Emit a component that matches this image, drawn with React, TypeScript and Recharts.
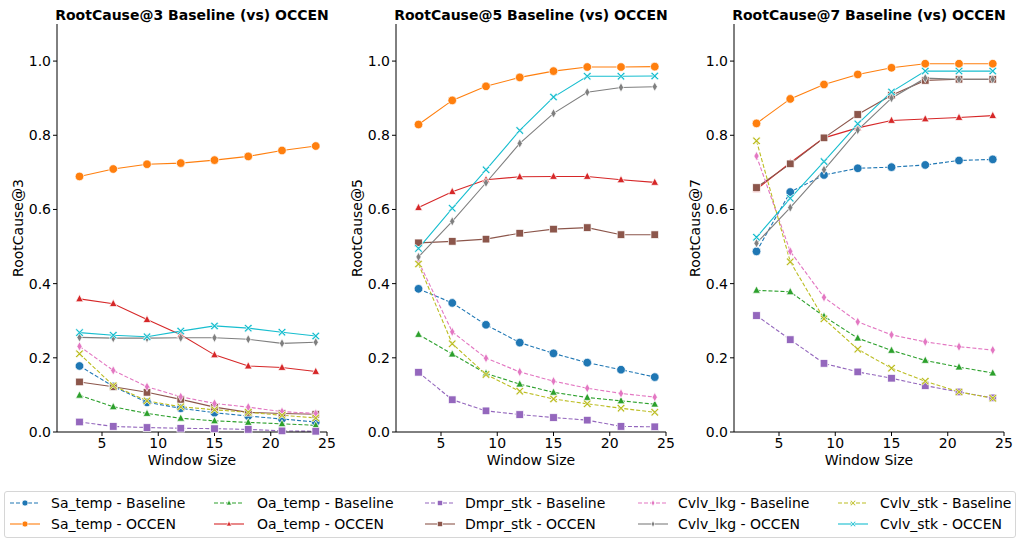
import React from 'react';
import { LineChart, Line, XAxis, YAxis } from 'recharts';

const windowSizes = [3, 6, 9, 12, 15, 18, 21, 24];

// RootCause@3
const rc3SaBase = [0.178, 0.123, 0.080, 0.064, 0.052, 0.043, 0.035, 0.027];
const rc3SaOccen = [0.689, 0.709, 0.722, 0.725, 0.733, 0.743, 0.759, 0.771];
const rc3OaBase = [0.099, 0.068, 0.050, 0.037, 0.030, 0.026, 0.022, 0.018];
const rc3OaOccen = [0.359, 0.346, 0.303, 0.262, 0.208, 0.178, 0.174, 0.163];
const rc3DmBase = [0.027, 0.015, 0.012, 0.010, 0.009, 0.007, 0.003, 0.002];
const rc3DmOccen = [0.135, 0.122, 0.107, 0.088, 0.067, 0.053, 0.050, 0.048];
const rc3LkBase = [0.231, 0.166, 0.122, 0.095, 0.077, 0.067, 0.055, 0.050];
const rc3LkOccen = [0.255, 0.253, 0.253, 0.254, 0.254, 0.250, 0.239, 0.242];
const rc3StBase = [0.211, 0.125, 0.084, 0.068, 0.060, 0.053, 0.045, 0.038];
const rc3StOccen = [0.268, 0.261, 0.257, 0.272, 0.286, 0.280, 0.269, 0.259];

// RootCause@5
const rc5SaBase = [0.386, 0.348, 0.289, 0.241, 0.212, 0.187, 0.168, 0.148];
const rc5SaOccen = [0.829, 0.894, 0.932, 0.956, 0.973, 0.984, 0.984, 0.985];
const rc5OaBase = [0.263, 0.210, 0.158, 0.129, 0.107, 0.093, 0.084, 0.075];
const rc5OaOccen = [0.605, 0.648, 0.680, 0.688, 0.689, 0.689, 0.680, 0.673];
const rc5DmBase = [0.161, 0.087, 0.057, 0.047, 0.039, 0.032, 0.015, 0.014];
const rc5DmOccen = [0.510, 0.514, 0.520, 0.536, 0.547, 0.551, 0.532, 0.532];
const rc5LkBase = [0.460, 0.270, 0.199, 0.162, 0.137, 0.118, 0.104, 0.094];
const rc5LkOccen = [0.472, 0.568, 0.672, 0.778, 0.859, 0.916, 0.929, 0.931];
const rc5StBase = [0.453, 0.238, 0.155, 0.110, 0.089, 0.076, 0.064, 0.053];
const rc5StOccen = [0.495, 0.603, 0.707, 0.813, 0.903, 0.959, 0.959, 0.960];

// RootCause@7
const rc7SaBase = [0.487, 0.647, 0.693, 0.711, 0.714, 0.720, 0.732, 0.735];
const rc7SaOccen = [0.832, 0.898, 0.937, 0.964, 0.982, 0.993, 0.993, 0.993];
const rc7OaBase = [0.382, 0.378, 0.312, 0.253, 0.220, 0.193, 0.175, 0.159];
const rc7OaOccen = [0.654, 0.726, 0.793, 0.820, 0.840, 0.844, 0.848, 0.853];
const rc7DmBase = [0.314, 0.249, 0.185, 0.162, 0.145, 0.125, 0.108, 0.092];
const rc7DmOccen = [0.659, 0.723, 0.793, 0.856, 0.908, 0.948, 0.951, 0.951];
const rc7LkBase = [0.744, 0.487, 0.363, 0.297, 0.262, 0.243, 0.230, 0.221];
const rc7LkOccen = [0.509, 0.605, 0.707, 0.814, 0.900, 0.954, 0.951, 0.951];
const rc7StBase = [0.785, 0.459, 0.305, 0.223, 0.172, 0.137, 0.108, 0.091];
const rc7StOccen = [0.525, 0.630, 0.729, 0.831, 0.917, 0.973, 0.973, 0.973];

const yTicks = [0, 0.2, 0.4, 0.6, 0.8, 1.0];
const xTicks = [5, 10, 15, 20, 25];

type Shape = 'circle' | 'triangle' | 'square' | 'diamond' | 'x';

const SERIES: { key: string; label: string; color: string; shape: Shape; dashed: boolean }[] = [
    { key: 'saBase', label: 'Sa_temp - Baseline', color: '#1f77b4', shape: 'circle', dashed: true },
    { key: 'saOccen', label: 'Sa_temp - OCCEN', color: '#ff7f0e', shape: 'circle', dashed: false },
    { key: 'oaBase', label: 'Oa_temp - Baseline', color: '#2ca02c', shape: 'triangle', dashed: true },
    { key: 'oaOccen', label: 'Oa_temp - OCCEN', color: '#d62728', shape: 'triangle', dashed: false },
    { key: 'dmBase', label: 'Dmpr_stk - Baseline', color: '#9467bd', shape: 'square', dashed: true },
    { key: 'dmOccen', label: 'Dmpr_stk - OCCEN', color: '#8c564b', shape: 'square', dashed: false },
    { key: 'lkBase', label: 'Cvlv_lkg - Baseline', color: '#e377c2', shape: 'diamond', dashed: true },
    { key: 'lkOccen', label: 'Cvlv_lkg - OCCEN', color: '#7f7f7f', shape: 'diamond', dashed: false },
    { key: 'stBase', label: 'Cvlv_stk - Baseline', color: '#bcbd22', shape: 'x', dashed: true },
    { key: 'stOccen', label: 'Cvlv_stk - OCCEN', color: '#17becf', shape: 'x', dashed: false },
];

const buildRows = (cols: Record<string, number[]>) =>
    windowSizes.map((w, i) => {
        const row: Record<string, number> = { w };
        Object.keys(cols).forEach((k) => { row[k] = cols[k][i]; });
        return row;
    });

const PANELS = [
    {
        k: 3, left: 57,
        data: buildRows({ saBase: rc3SaBase, saOccen: rc3SaOccen, oaBase: rc3OaBase, oaOccen: rc3OaOccen, dmBase: rc3DmBase, dmOccen: rc3DmOccen, lkBase: rc3LkBase, lkOccen: rc3LkOccen, stBase: rc3StBase, stOccen: rc3StOccen }),
    },
    {
        k: 5, left: 396,
        data: buildRows({ saBase: rc5SaBase, saOccen: rc5SaOccen, oaBase: rc5OaBase, oaOccen: rc5OaOccen, dmBase: rc5DmBase, dmOccen: rc5DmOccen, lkBase: rc5LkBase, lkOccen: rc5LkOccen, stBase: rc5StBase, stOccen: rc5StOccen }),
    },
    {
        k: 7, left: 734,
        data: buildRows({ saBase: rc7SaBase, saOccen: rc7SaOccen, oaBase: rc7OaBase, oaOccen: rc7OaOccen, dmBase: rc7DmBase, dmOccen: rc7DmOccen, lkBase: rc7LkBase, lkOccen: rc7LkOccen, stBase: rc7StBase, stOccen: rc7StOccen }),
    },
];

const FONT = '"DejaVu Sans", sans-serif';

// marker glyph centred on (cx, cy)
const Marker = ({ shape, cx, cy, color, s = 1 }: { shape: Shape; cx: number; cy: number; color: string; s?: number }) => {
    const common = { fill: color, stroke: '#fff', strokeWidth: 0.7 };
    if (shape === 'circle') return <circle cx={cx} cy={cy} r={4.3 * s} {...common} />;
    if (shape === 'square') {
        const h = 3.8 * s;
        return <rect x={cx - h} y={cy - h} width={2 * h} height={2 * h} {...common} />;
    }
    if (shape === 'triangle') {
        const w = 3.8 * s;
        return <polygon points={`${cx},${cy - 4.3 * s} ${cx - w},${cy + 2.9 * s} ${cx + w},${cy + 2.9 * s}`} {...common} />;
    }
    if (shape === 'diamond') {
        return <polygon points={`${cx},${cy - 4.6 * s} ${cx + 2.6 * s},${cy} ${cx},${cy + 4.6 * s} ${cx - 2.6 * s},${cy}`} {...common} />;
    }
    // filled X
    const a = 4 * s, t = 1.25 * s;
    const pts = [
        [-a, -a + t], [-a + t, -a], [0, -t], [a - t, -a], [a, -a + t], [t, 0],
        [a, a - t], [a - t, a], [0, t], [-a + t, a], [-a, a - t], [-t, 0],
    ].map(([px, py]) => `${cx + px},${cy + py}`).join(' ');
    return <polygon points={pts} {...common} />;
};

const makeDot = (shape: Shape, color: string) => (props: any) => {
    const { cx, cy, index } = props;
    if (cx == null || cy == null) return <g key={`d-${index}`} />;
    return <Marker key={`d-${index}`} shape={shape} cx={cx} cy={cy} color={color} />;
};

const tickStyle = { fill: '#000', fontSize: 14, fontFamily: FONT };

const Panel = ({ k, left, data }: { k: number; left: number; data: any[] }) => (
    <div style={{ position: 'absolute', left: left - 57, top: 0 }}>
        <div style={{
            position: 'absolute', left: 57 - 40, width: 270 + 80, top: 5, textAlign: 'center',
            fontSize: 14, fontWeight: 'bold', fontFamily: FONT, lineHeight: '20px', whiteSpace: 'nowrap',
        }}>
            {`RootCause@${k} Baseline (vs) OCCEN`}
        </div>
        <LineChart width={345} height={470} data={data} margin={{ top: 24, right: 18, bottom: 0, left: 0 }}>
            <XAxis
                dataKey="w" type="number" domain={[1, 25]} ticks={xTicks} height={38}
                tick={tickStyle} tickSize={4} tickMargin={2}
                axisLine={{ stroke: '#000' }} tickLine={{ stroke: '#000' }}
                label={({ viewBox }: any) => (
                    <text x={viewBox.x + viewBox.width / 2} y={viewBox.y + 28} textAnchor="middle" dominantBaseline="central"
                        fontSize={14} fontFamily={FONT} fill="#000">Window Size</text>
                )}
            />
            <XAxis xAxisId="top" orientation="top" type="number" domain={[1, 25]} height={0}
                tick={false} tickLine={false} axisLine={{ stroke: '#000' }} />
            <YAxis
                type="number" domain={[0, 1.1]} ticks={yTicks} width={57}
                tick={tickStyle} tickSize={4} tickMargin={2} tickFormatter={(v: number) => v.toFixed(1)}
                axisLine={{ stroke: '#000' }} tickLine={{ stroke: '#000' }}
                label={({ viewBox }: any) => {
                    const cx = viewBox.x + 18;
                    const cy = viewBox.y + viewBox.height / 2;
                    return (
                        <text x={cx} y={cy} transform={`rotate(-90 ${cx} ${cy})`} textAnchor="middle" dominantBaseline="central"
                            fontSize={14} fontFamily={FONT} fill="#000">{`RootCause@${k}`}</text>
                    );
                }}
            />
            <YAxis yAxisId="right" orientation="right" type="number" domain={[0, 1.1]} width={0}
                tick={false} tickLine={false} axisLine={{ stroke: '#000' }} />
            {SERIES.map((s) => (
                <Line
                    key={s.key} dataKey={s.key} type="linear" stroke={s.color} strokeWidth={1.1}
                    strokeDasharray={s.dashed ? '4 2' : undefined}
                    dot={makeDot(s.shape, s.color)} activeDot={false} isAnimationActive={false}
                />
            ))}
        </LineChart>
    </div>
);

const legendCols = [
    { line: 10, text: 51 },
    { line: 214, text: 257 },
    { line: 425, text: 465 },
    { line: 638, text: 678 },
    { line: 838, text: 880 },
];

const LegendBox = () => (
    <div style={{
        position: 'absolute', left: 4, top: 491, width: 1010, height: 45,
        border: '1px solid #d6d6d6', borderRadius: 3, background: '#fff',
    }}>
        {SERIES.map((s, i) => {
            const col = legendCols[Math.floor(i / 2)];
            const rowY = i % 2 === 0 ? 503 : 524;
            return (
                <React.Fragment key={s.key}>
                    <svg style={{ position: 'absolute', left: col.line - 5, top: rowY - 491 - 8 - 1 }} width={32} height={16}>
                        <line x1={0} y1={8} x2={30} y2={8} stroke={s.color} strokeWidth={1.1}
                            strokeDasharray={s.dashed ? '4 2' : undefined} />
                        <Marker shape={s.shape} cx={15} cy={8} color={s.color} s={0.7} />
                    </svg>
                    <div style={{
                        position: 'absolute', left: col.text - 5, top: rowY - 491 - 10 - 1, lineHeight: '20px',
                        fontSize: 14, fontFamily: FONT, color: '#000', whiteSpace: 'nowrap',
                    }}>{s.label}</div>
                </React.Fragment>
            );
        })}
    </div>
);

export default function App() {
    return (
        <div style={{ position: 'absolute', left: 0, top: 0, width: 1017, height: 538, background: '#fff', overflow: 'hidden' }}>
            {PANELS.map((p) => <Panel key={p.k} k={p.k} left={p.left} data={p.data} />)}
            <LegendBox />
        </div>
    );
}
